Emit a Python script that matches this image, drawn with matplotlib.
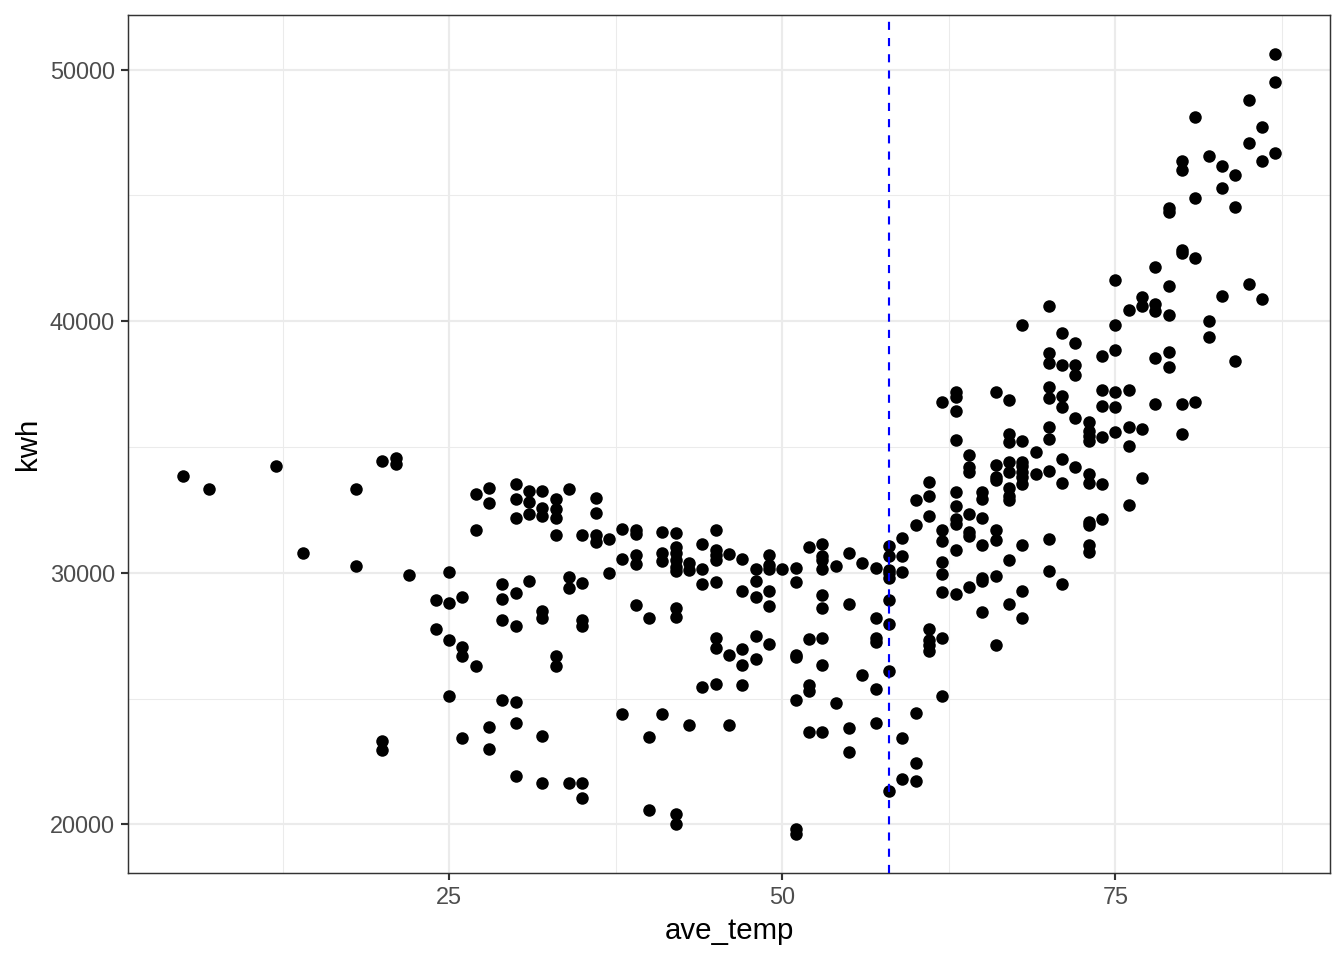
import matplotlib
matplotlib.use("Agg")
import matplotlib.pyplot as plt
from matplotlib.ticker import FixedLocator

# average temperature (x) and kwh (y)
ave_temp = (
    [5, 7, 12, 14, 18, 18, 20, 20, 20, 21, 21, 22, 24, 24]
    + [25] * 4 + [26] * 4 + [27] * 3 + [28] * 4 + [29] * 4 + [30] * 8
    + [31] * 4 + [32] * 7 + [33] * 6 + [34] * 4 + [35] * 6 + [36] * 4
    + [37] * 2 + [38] * 3 + [39] * 5 + [40] * 3 + [41] * 4 + [42] * 10
    + [43] * 3 + [44] * 4 + [45] * 8 + [46] * 3 + [47] * 5 + [48] * 5
    + [49] * 6 + [50] * 1 + [51] * 7 + [52] * 5 + [53] * 9 + [54] * 2
    + [55] * 4 + [56] * 2 + [57] * 6 + [58] * 9 + [59] * 5 + [60] * 5
    + [61] * 7 + [62] * 8 + [63] * 10 + [64] * 7 + [65] * 7 + [66] * 8
    + [67] * 10 + [68] * 10 + [69] * 2 + [70] * 10 + [71] * 7 + [72] * 5
    + [73] * 10 + [74] * 6 + [75] * 6 + [76] * 5 + [77] * 4 + [78] * 5
    + [79] * 6 + [80] * 6 + [81] * 4 + [82] * 3 + [83] * 3 + [84] * 3
    + [85] * 3 + [86] * 3 + [87] * 3
)

kwh = [
    33840, 33330, 34250, 30770, 33350, 30280, 34460, 23310, 22960, 34570, 34330, 29920, 28920, 27750,
    30040, 28790, 27330, 25090,
    29050, 27070, 26680, 23420,
    33140, 31690, 26310,
    33370, 32770, 23870, 22980,
    29550, 28970, 28140, 24940,
    33540, 32930, 32180, 29180, 27890, 24860, 24030, 21930,
    33270, 32810, 32350, 29670,
    33270, 32570, 32260, 28480, 28220, 23530, 21660,
    32940, 32520, 32190, 31490, 26680, 26280,
    33340, 29840, 29380, 21640,
    31490, 29610, 28130, 27900, 21640, 21070,
    32980, 32380, 31490, 31230,
    31360, 29980,
    31760, 30540, 24390,
    31720, 31560, 30700, 30340, 28720,
    28220, 23470, 20570,
    31620, 30770, 30460, 24390,
    31600, 31030, 30770, 30500, 30240, 30070, 28620, 28230, 20410, 20010,
    30410, 30100, 23970,
    31160, 30140, 29550, 25450,
    31690, 30920, 30700, 30500, 29650, 27400, 27010, 25580,
    30730, 26740, 23970,
    30530, 29290, 26970, 26340, 25530,
    30140, 29680, 29020, 27490, 26580,
    30700, 30300, 30170, 29290, 28700, 27160,
    30140,
    30210, 29650, 26720, 26640, 24940, 19810, 19620,
    31030, 27360, 25550, 25320, 23680,
    31130, 30660, 30500, 30170, 29120, 28620, 27400, 26340, 23680,
    30280, 24830,
    30790, 28750, 23840, 22890,
    30410, 25950,
    30200, 28190, 27400, 27270, 25380, 24040,
    31070, 30660, 30100, 30010, 29780, 28940, 27970, 26080, 21310,
    31400, 30660, 30040, 23440, 21790,
    32900, 31910, 24430, 22450, 21730,
    33600, 33070, 32260, 27770, 27330, 27140, 26880,
    36770, 31720, 31250, 30440, 29950, 29250, 27400, 25120,
    37190, 36970, 36440, 35280, 33230, 32650, 32150, 31950, 30900, 29150,
    34680, 34200, 34000, 32320, 31620, 31470, 29450,
    33200, 32950, 32180, 31120, 29800, 29670, 28460,
    37170, 34290, 33800, 33670, 31690, 31290, 29880, 27140,
    36870, 35510, 35210, 34420, 34000, 33370, 33070, 32880, 30500, 28760,
    39830, 35250, 34400, 34260, 34000, 33800, 33540, 31120, 29270, 28190,
    34790, 33930,
    40620, 38750, 38350, 37400, 36930, 35780, 35320, 34060, 31360, 30070,
    39540, 38260, 37010, 36610, 34530, 33560, 29540,
    39120, 38260, 37850, 36150, 34200,
    35980, 35650, 35450, 35250, 33930, 33560, 32020, 31890, 31090, 30830,
    38610, 37270, 36630, 35410, 33540, 32150,
    41650, 39830, 38850, 37190, 36610, 35610,
    40460, 37270, 35800, 35030, 32680,
    40950, 40590, 35700, 33770,
    42140, 40700, 40390, 38550, 36700,
    44480, 44350, 41380, 40260, 38790, 38180,
    46360, 46000, 42840, 42710, 36700, 35510,
    48110, 44910, 42530, 36770,
    46570, 40000, 39370,
    46160, 45280, 40990,
    45810, 44530, 38420,
    48800, 47080, 41480,
    47720, 46360, 40890,
    50620, 49500, 46700,
]

breakpoint_temp = 58
x_ticks = [25, 50, 75]
x_minor = [12.5, 37.5, 62.5, 87.5]
y_ticks = [20000, 30000, 40000, 50000]
y_minor = [25000, 35000, 45000]

plt.rcParams["font.family"] = ["Liberation Sans", "DejaVu Sans"]

fig = plt.figure(figsize=(7, 5), dpi=192)
ax = fig.add_axes([0.0952, 0.0906, 0.8944, 0.8938])

ax.scatter(ave_temp, kwh, s=22, color="black", linewidths=0, zorder=3)
ax.axvline(breakpoint_temp, color="blue", lw=0.8, linestyle=(0, (3.8, 3.8)), zorder=4)

xmin, xmax = min(ave_temp), max(ave_temp)
ymin, ymax = min(kwh), max(kwh)
xpad = (xmax - xmin) * 0.05
ypad = (ymax - ymin) * 0.05
ax.set_xlim(xmin - xpad, xmax + xpad)
ax.set_ylim(ymin - ypad, ymax + ypad)

ax.xaxis.set_major_locator(FixedLocator(x_ticks))
ax.xaxis.set_minor_locator(FixedLocator(x_minor))
ax.yaxis.set_major_locator(FixedLocator(y_ticks))
ax.yaxis.set_minor_locator(FixedLocator(y_minor))
ax.set_xticklabels([str(v) for v in x_ticks])
ax.set_yticklabels([str(v) for v in y_ticks])

ax.grid(True, which="major", color="#EBEBEB", lw=0.8, zorder=0)
ax.grid(True, which="minor", color="#EBEBEB", lw=0.4, zorder=0)
ax.set_axisbelow(True)

for spine in ax.spines.values():
    spine.set_color("#333333")
    spine.set_linewidth(0.55)

ax.tick_params(which="major", length=2.75, width=0.8, color="#333333",
               labelcolor="#4D4D4D", labelsize=8.8, pad=2.2)
ax.tick_params(which="minor", length=0)

ax.set_xlabel("ave_temp", fontsize=11, color="black", labelpad=2.75)
ax.set_ylabel("kwh", fontsize=11, color="black", labelpad=2.75)

fig.savefig("out.png", dpi=192, facecolor="white")
